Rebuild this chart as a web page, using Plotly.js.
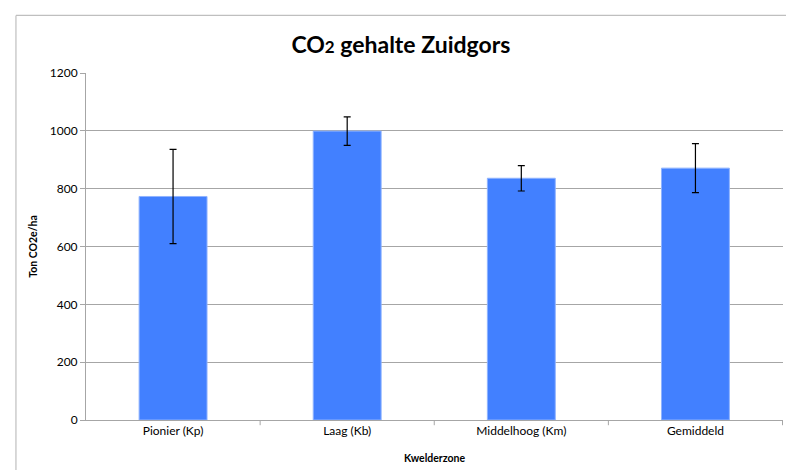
<!DOCTYPE html>
<html><head><meta charset="utf-8">
<script src="https://cdn.plot.ly/plotly-3.0.1.min.js"></script>
<style>html,body{margin:0;padding:0;background:#fff;overflow:hidden}#c{width:786px;height:470px}</style>
</head><body><div id="c"></div>
<script>
const categories = ["Pionier (Kp)", "Laag (Kb)", "Middelhoog (Km)", "Gemiddeld"];
const values = [773, 999, 836, 871];
const errors = [163, 49, 44, 85];
const yTicks = [0, 200, 400, 600, 800, 1000, 1200];

const font = "Lato, 'Open Sans', 'Liberation Sans', sans-serif";
const frame = {color: "#bfbfbf", width: 1.2};
const catTicks = [0.5, 1.5, 2.5, 3.5].map(v => ({type: "line", xref: "x", yref: "paper", x0: v, x1: v, y0: 0, y1: -0.015, line: {color: "#a6a6a6", width: 1}}));
Plotly.newPlot("c", [{
  type: "bar",
  x: categories,
  y: values,
  marker: {color: "#4280ff", line: {color: "#8fb3ff", width: 1}},
  error_y: {type: "data", array: errors, visible: true, color: "#000", thickness: 1.2, width: 3.5},
  hoverinfo: "none"
}], {
  width: 786, height: 470,
  margin: {l: 86, r: 3, t: 73, b: 50},
  paper_bgcolor: "#fff", plot_bgcolor: "#fff",
  bargap: 0.61,
  showlegend: false,
  font: {family: font, color: "#000"},
  title: {text: "<b>CO<span style='font-size:17px'>2</span> gehalte Zuidgors</b>", x: 0.51, xanchor: "center", y: 0.905, yanchor: "middle", font: {size: 23, family: font, color: "#000"}},
  xaxis: {
    showgrid: false, showline: true, linecolor: "#a6a6a6", linewidth: 1,
    ticks: "", tickfont: {size: 12, family: font, color: "#000"},
    title: {text: "<b>Kwelderzone</b>", font: {size: 10.5, family: font, color: "#000"}, standoff: 17},
    fixedrange: true
  },
  yaxis: {
    range: [0, 1200], tickvals: yTicks, showgrid: true, gridcolor: "#a6a6a6", gridwidth: 1,
    showline: true, linecolor: "#a6a6a6", ticks: "outside", ticklen: 5, tickcolor: "#a6a6a6",
    tickfont: {size: 12, family: font, color: "#000"}, zeroline: false,
    title: {text: "<b>Ton CO2e/ha</b>", font: {size: 10.5, family: font, color: "#000"}, standoff: 10},
    fixedrange: true
  },
  shapes: [
    {type: "line", xref: "paper", yref: "paper", x0: -0.1005, x1: -0.1005, y0: -0.3, y1: 1.166, line: frame},
    {type: "line", xref: "paper", yref: "paper", x0: -0.1005, x1: 1.2, y0: 1.166, y1: 1.166, line: frame}
  ].concat(catTicks)
}, {displayModeBar: false, staticPlot: true});
</script></body></html>
